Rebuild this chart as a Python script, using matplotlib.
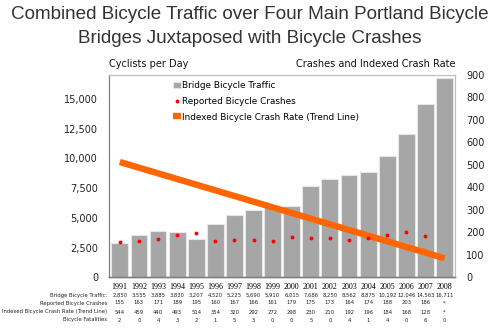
import numpy as np
import matplotlib.pyplot as plt
from matplotlib.ticker import FuncFormatter

# bridge counts and crash data by year
years = [1991, 1992, 1993, 1994, 1995, 1996, 1997, 1998, 1999,
         2000, 2001, 2002, 2003, 2004, 2005, 2006, 2007, 2008]
traffic = [2850, 3555, 3885, 3830, 3207, 4520, 5225, 5690, 5910,
           6015, 7686, 8250, 8562, 8875, 10192, 12046, 14563, 16711]
crashes = [155, 163, 171, 189, 195, 160, 167, 166, 161,
           179, 175, 173, 164, 174, 188, 203, 186]
crash_rate = [544, 459, 440, 493, 514, 354, 320, 292, 272,
              298, 230, 210, 192, 196, 184, 168, 128]
fatalities = [2, 0, 4, 3, 2, 1, 5, 3, 0, 0, 5, 0, 4, 1, 4, 0, 6, 0]

x = np.arange(len(years))

fig = plt.figure(figsize=(5, 3.31), dpi=100)
fig.patch.set_facecolor('white')
ax = fig.add_axes([0.2186, 0.1622, 0.6914, 0.6112])
ax2 = ax.twinx()

ax.bar(x, traffic, width=0.88, color='#a6a6a6', edgecolor='#e6e6e6', linewidth=0.8,
       label='Bridge Bicycle Traffic', zorder=2)
ax.set_ylim(0, 17000)
ax.set_xlim(-0.55, len(years) - 0.45)
ax.set_yticks(np.arange(0, 15001, 2500))
ax.yaxis.set_major_formatter(FuncFormatter(lambda v, p: f'{int(v):,}'))
ax.set_xticks(x)
ax.set_xticklabels([str(y) for y in years], fontsize=5.8, family='Liberation Serif')
ax.tick_params(axis='x', length=0, pad=4)
ax.tick_params(axis='y', length=0, labelsize=7, pad=8, colors='#222222')

# trend line: least-squares fit of the indexed rate, extended to the last year
k, b = np.polyfit(x[:len(crash_rate)], crash_rate, 1)
ax2.plot(x, k * x + b, color='#ff6600', linewidth=4.6, solid_capstyle='butt',
         label='Indexed Bicycle Crash Rate (Trend Line)', zorder=3)
ax2.plot(x[:len(crashes)], crashes, 'o', color='#ff0000', markersize=1.8,
         label='Reported Bicycle Crashes', zorder=4)
ax2.set_ylim(0, 900)
ax2.set_yticks(np.arange(0, 901, 100))
ax2.tick_params(axis='y', length=0, labelsize=7, pad=8, colors='#222222')

for a in (ax, ax2):
    for side in ('top', 'right'):
        a.spines[side].set_color('#bfbfbf')
    a.spines['left'].set_color('#7f7f7f')
    a.spines['bottom'].set_color('#7f7f7f')
    a.spines['left'].set_linewidth(0.8)
    a.spines['bottom'].set_linewidth(1.0)

# legend in the plot's top-left corner
h1, l1 = ax.get_legend_handles_labels()
h2, l2 = ax2.get_legend_handles_labels()
order = [h1[0], h2[1], h2[0]]
labels = [l1[0], l2[1], l2[0]]
ax2.legend(order, labels, loc='upper left', bbox_to_anchor=(0.165, 1.0), frameon=False,
           fontsize=6.4, handlelength=0.9, handletextpad=0.2, labelspacing=0.75,
           borderaxespad=0.3)

fig.text(0.5, 0.955, 'Combined Bicycle Traffic over Four Main Portland Bicycle',
         ha='center', va='center', fontsize=13.6, color='#333333', family='Liberation Sans')
fig.text(0.5, 0.885, 'Bridges Juxtaposed with Bicycle Crashes',
         ha='center', va='center', fontsize=13.6, color='#333333', family='Liberation Sans')
ax.text(0.0, 1.03, 'Cyclists per Day', transform=ax.transAxes, fontsize=7,
        ha='left', va='bottom', color='#111111')
ax.text(1.0, 1.03, 'Crashes and Indexed Crash Rate', transform=ax.transAxes,
        fontsize=7, ha='right', va='bottom', color='#111111')

# data table under the axis
rows = [
    ('Bridge Bicycle Traffic:', [f'{v:,}' for v in traffic]),
    ('Reported Bicycle Crashes', [str(v) for v in crashes] + ['*']),
    ('Indexed Bicycle Crash Rate (Trend Line)', [str(v) for v in crash_rate] + ['*']),
    ('Bicycle Fatalities', [str(v) for v in fatalities]),
]
row_y = [295, 303, 312, 320]
for (name, vals), py in zip(rows, row_y):
    yf = 1 - py / 331
    fig.text(107 / 500, yf, name, ha='right', va='center', fontsize=3.8,
             color='#222222')
    for xi, v in zip(x, vals):
        xd = ax.transData.transform((xi, 0))[0]
        fig.text(xd / 500, yf, v, ha='center', va='center', fontsize=3.8,
                 color='#222222')

fig.savefig('out.png', dpi=100)
